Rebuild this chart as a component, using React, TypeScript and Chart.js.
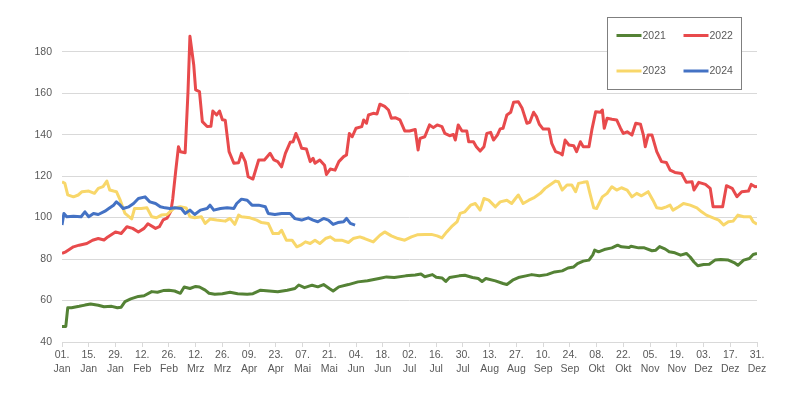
import React, { useEffect, useRef } from "react";
import { Chart, registerables } from "chart.js";

Chart.register(...registerables);

// x ticks: every 14 days from 01. Jan (day 0) to 31. Dez (day 364)
const TICK_DAYS = ["01.", "15.", "29.", "12.", "26.", "12.", "26.", "09.", "23.", "07.", "21.", "04.", "18.", "02.", "16.", "30.", "13.", "27.", "10.", "24.", "08.", "22.", "05.", "19.", "03.", "17.", "31."];
const TICK_MONTHS = ["Jan", "Jan", "Jan", "Feb", "Feb", "Mrz", "Mrz", "Apr", "Apr", "Mai", "Mai", "Jun", "Jun", "Jul", "Jul", "Jul", "Aug", "Aug", "Sep", "Sep", "Okt", "Okt", "Nov", "Nov", "Dez", "Dez", "Dez"];

const SERIES_LABELS = ["2021", "2022", "2023", "2024"];
const SERIES_COLORS = ["#548235", "#e84a4c", "#f8d76a", "#4472c4"];

const DAYS_2021 = [0, 2, 3, 5, 9, 12, 15, 19, 22, 26, 29, 31, 33, 36, 40, 43, 47, 50, 53, 56, 59, 62, 64, 67, 70, 72, 75, 77, 80, 84, 88, 92, 97, 100, 104, 110, 113, 118, 122, 124, 127, 131, 134, 137, 140, 142, 145, 150, 155, 160, 166, 170, 174, 180, 185, 188, 190, 194, 196, 199, 201, 203, 208, 211, 215, 218, 220, 222, 227, 231, 233, 236, 239, 243, 246, 250, 254, 258, 262, 265, 268, 270, 273, 276, 278, 279, 281, 284, 288, 291, 293, 297, 298, 302, 305, 309, 311, 313, 316, 318, 321, 324, 327, 329, 331, 333, 336, 339, 342, 345, 349, 352, 354, 357, 360, 362, 364];
const VALUES_2021 = [47.5, 47.5, 56.5, 56.5, 57.2, 57.8, 58.3, 57.7, 57, 57.2, 56.5, 56.8, 59.5, 60.8, 62, 62.3, 64.3, 64, 64.8, 65, 64.6, 63.5, 66.5, 65.8, 66.8, 66.5, 65, 63.5, 63, 63.3, 64, 63.3, 63, 63.3, 65, 64.5, 64.2, 65, 65.8, 67.5, 66.2, 67.4, 66.6, 67.7, 65.8, 64.6, 66.6, 67.7, 69, 69.5, 70.6, 71.4, 71.1, 71.9, 72.3, 72.8, 71.5, 72.5, 71.2, 70.9, 69.2, 71.1, 71.9, 72.2, 71.1, 70.6, 69.2, 70.6, 69.5, 68.2, 67.7, 69.8, 71.1, 71.9, 72.5, 72, 72.5, 73.8, 74.3, 75.7, 76.2, 77.8, 79, 79.5, 82, 84.3, 83.5, 84.6, 85.4, 86.7, 85.9, 85.6, 86.2, 85.4, 85.4, 84, 84.3, 86, 84.8, 83.5, 83, 81.9, 82.7, 81, 78.6, 76.8, 77.4, 77.5, 79.5, 79.8, 79.5, 78.3, 77, 79.5, 80.3, 82.2, 82.7];

const DAYS_2022 = [0, 2, 6, 9, 13, 16, 19, 22, 24, 28, 31, 34, 37, 40, 43, 45, 49, 51, 53, 55, 57, 58, 59.5, 61, 62, 64.5, 66, 67, 69, 70, 72, 73.5, 76, 78, 79, 81, 82.5, 84, 85.5, 87.5, 90, 92.5, 94, 96, 97.5, 100, 103, 106, 109, 111, 113, 115, 117, 119.5, 121, 122.5, 124, 125.5, 128, 130, 131.5, 132.5, 135, 137.5, 138.5, 140.5, 143, 145, 147.5, 149, 150.5, 152, 154, 157, 158, 159.5, 160.5, 163, 165, 166.5, 169, 171, 172.5, 174.5, 177, 179.5, 182, 185, 186.5, 187.5, 190, 192.5, 194.5, 196.5, 199, 200.5, 203, 205, 206, 207.5, 209.5, 212, 213, 215.5, 217, 219, 221, 222.5, 224.5, 226, 228, 229.5, 231, 233, 235, 236.5, 239, 241, 243.5, 245, 247, 248.5, 250, 252, 255, 256.5, 258.5, 261, 262, 263.5, 265.5, 268, 269.5, 271.5, 273, 276, 277.5, 279.5, 282, 283, 284, 285.5, 288, 290.5, 292.5, 294, 296, 298.5, 300.5, 303, 304.5, 305.5, 307, 309, 311.5, 314, 316.5, 318.5, 321, 324.5, 327, 330, 331, 333.5, 337, 339.5, 341, 346, 348, 351, 353.5, 356, 359.5, 361, 363, 364];
const VALUES_2022 = [82.7, 83.5, 85.9, 86.7, 87.5, 89.1, 89.9, 89.2, 90.7, 93.1, 92.3, 95.6, 94.8, 93.1, 94.8, 97, 94.8, 95.6, 98.9, 99.7, 103, 109, 122, 134.2, 131.8, 131.3, 160.8, 187.5, 173.6, 161.6, 160.8, 146.3, 143.9, 144, 151.4, 149.5, 151.4, 147.2, 147, 131.8, 126.2, 126.5, 131, 127, 119.7, 118.6, 127.8, 127.8, 131, 127.8, 127, 124.5, 131, 136.3, 136.6, 140.6, 137.4, 133.4, 133.1, 127, 128.6, 126.2, 127.8, 125.3, 120.8, 123.4, 122.9, 127, 129.4, 130.2, 140.6, 139, 143.1, 143.9, 147.1, 145.5, 149.5, 150.3, 150, 154.7, 153.6, 151.9, 147.9, 148.2, 147.1, 141.8, 141.8, 142.5, 132.6, 138.2, 139, 144.7, 143.4, 144.7, 143.9, 140.6, 139.5, 140.1, 137.4, 144.7, 141.8, 141.8, 136.6, 136.6, 134.2, 132.1, 134.2, 140.6, 141.1, 137.4, 139.8, 142.8, 143.1, 149.5, 150.8, 155.6, 155.9, 152.7, 145.5, 146, 150.8, 148.7, 145, 142.7, 142.7, 135.8, 131.8, 131, 130.2, 137.4, 135, 134.7, 131.8, 136.6, 134.2, 134.2, 142.3, 151, 150.8, 151.9, 143.1, 147.9, 147.4, 147.1, 143.1, 140.6, 141.4, 139.8, 145.5, 145, 139.8, 134.2, 139.8, 139.8, 131.8, 127, 126.6, 122.9, 121.8, 121.3, 117, 117.3, 113.3, 117, 116, 114.1, 105.2, 105.2, 115.4, 114.1, 110.1, 112.5, 112.8, 116, 114.9, 115];

const DAYS_2023 = [0, 1.5, 3, 6, 8.5, 10.5, 14, 17, 19, 21.5, 23.5, 25, 27, 28.5, 30.5, 33, 36.5, 38, 41.5, 44.5, 47, 49.5, 52, 55, 56.5, 59, 62, 65, 67, 69.5, 73, 75, 77.5, 81, 85.5, 88, 90.5, 92.5, 94, 98.5, 102, 104.5, 108, 110.5, 113.5, 115, 117.5, 120.5, 123, 125, 127.5, 130, 132.5, 135, 138, 140.5, 143, 146.5, 150, 152.5, 156, 158.5, 163, 166.5, 169, 172.5, 176, 179.5, 183, 186, 190, 193.5, 196.5, 199, 201.5, 204, 207, 208.5, 211, 214, 216.5, 219, 221, 223.5, 227, 229.5, 233, 235.5, 237.5, 239, 241.5, 244.5, 247, 250.5, 253, 255.5, 258.5, 260, 262, 264.5, 267, 269, 270.5, 273, 275, 276.5, 278.5, 280, 283, 285.5, 288, 290.5, 293, 296, 298.5, 301, 303.5, 307, 309.5, 311.5, 314, 316.5, 318.5, 320, 323, 325.5, 329, 332.5, 335, 337.5, 341, 344, 346.5, 349, 351.5, 354, 357, 360.5, 362, 364];
const VALUES_2023 = [117.3, 116.5, 111, 110, 110.9, 112.5, 112.8, 111.7, 114.1, 114.9, 117.6, 113.3, 112.8, 112.5, 108.4, 102, 99.4, 104.4, 104.4, 104.7, 100.4, 99.9, 101.2, 101.5, 102.8, 104.7, 105.2, 104.7, 100.4, 99.9, 100.4, 97.2, 99.3, 98.8, 98.3, 99.6, 96.7, 101.2, 100.4, 99.9, 98.8, 97.6, 97.2, 92.3, 92.3, 93.9, 89.1, 89.1, 85.9, 86.7, 88.3, 87.5, 89.1, 87.5, 89.9, 90.7, 89.1, 89.1, 88, 89.9, 90.7, 89.9, 88.3, 91.5, 93.1, 91.2, 89.9, 89.1, 90.7, 91.7, 91.9, 91.9, 91.2, 90.2, 93.1, 95.6, 98.1, 102, 102.8, 106, 106.8, 103.6, 109.2, 108.4, 105.2, 107.6, 108.4, 106.8, 109.2, 110.9, 106.8, 108.4, 109.5, 111.7, 114.1, 115.7, 117.6, 117.3, 113.3, 115.7, 115.7, 112.5, 116.5, 117, 117.3, 111.7, 104.7, 104.4, 110, 111.7, 114.9, 113.3, 114.4, 113.3, 110, 111.7, 110.5, 112.5, 108.4, 104.7, 104.4, 105.2, 106, 103.6, 105.2, 106.8, 106, 104.7, 102.8, 101.2, 99.9, 98.8, 96.4, 98, 98.3, 101.2, 100.4, 100.4, 98, 96.8];

const DAYS_2024 = [0, 1, 2.5, 6, 10, 12, 14, 16.5, 19, 22.5, 24.5, 27, 28.5, 30.5, 32, 35, 37.5, 40, 43.5, 46, 49, 51.5, 54, 56.5, 59, 62.5, 64.5, 67, 69.5, 72.5, 76, 77.5, 79.5, 83, 86.5, 90, 91.5, 94, 97, 99.5, 103, 106.5, 108, 111.5, 115, 119.5, 122, 125.5, 129, 131.5, 134, 137, 139.5, 142, 144.5, 147.5, 149, 151, 153.5];
const VALUES_2024 = [96.4, 102, 100.4, 100.7, 100.4, 102.8, 100.4, 102, 101.5, 103.1, 104.4, 106, 107.6, 106, 104.4, 105.2, 106.8, 109.2, 110, 107.6, 106.8, 105.2, 104.7, 104.4, 104.7, 104.4, 102, 103.6, 101.5, 103.6, 104.4, 106, 103.6, 104.4, 104.7, 104.4, 106.8, 108.9, 108.4, 106, 106, 105.2, 102, 101.5, 102, 102, 99.5, 98.8, 99.9, 98.8, 98, 99.6, 98.8, 96.7, 97.6, 98, 99.6, 97.2, 96.4];

const SERIES_DAYS = [DAYS_2021, DAYS_2022, DAYS_2023, DAYS_2024];
const SERIES_VALUES = [VALUES_2021, VALUES_2022, VALUES_2023, VALUES_2024];

const FONT = "'Liberation Sans', Arial, sans-serif";
const TEXT_COLOR = "#595959";
const GRID_COLOR = "#d9d9d9";

const legendBox = {
  id: "legendBox",
  afterDraw(chart: any) {
    const ctx = chart.ctx;
    const bx = 607.5, by = 17.5, bw = 134, bh = 72;
    ctx.save();
    ctx.fillStyle = "#ffffff";
    ctx.fillRect(bx, by, bw, bh);
    ctx.strokeStyle = "#7f7f7f";
    ctx.lineWidth = 1;
    ctx.strokeRect(bx, by, bw, bh);
    ctx.font = `10.5px ${FONT}`;
    ctx.textBaseline = "middle";
    ctx.textAlign = "left";
    chart.data.datasets.forEach((ds: any, i: number) => {
      const col = i % 2, row = Math.floor(i / 2);
      const x = bx + 9 + col * 67;
      const y = by + 18 + row * 35.5;
      ctx.strokeStyle = ds.borderColor;
      ctx.lineWidth = 3;
      ctx.beginPath();
      ctx.moveTo(x, y);
      ctx.lineTo(x + 25, y);
      ctx.stroke();
      ctx.fillStyle = TEXT_COLOR;
      ctx.fillText(ds.label, x + 26, y + 0.5);
    });
    ctx.restore();
  },
};

export default function App() {
  const ref = useRef<HTMLCanvasElement>(null);
  useEffect(() => {
    if (!ref.current) return;
    const datasets = SERIES_LABELS.map((label, i) => ({
      label,
      data: SERIES_DAYS[i].map((d, j) => ({ x: d, y: SERIES_VALUES[i][j] })),
      borderColor: SERIES_COLORS[i],
      backgroundColor: SERIES_COLORS[i],
      borderWidth: 3,
      pointRadius: 0,
      tension: 0,
      borderJoinStyle: "round" as const,
      order: SERIES_LABELS.length - i,
    }));
    const chart = new Chart(ref.current, {
      type: "line",
      data: { datasets },
      plugins: [legendBox],
      options: {
        animation: false,
        responsive: true,
        maintainAspectRatio: false,
        layout: { padding: { top: 31, right: 41, left: 0, bottom: 0 } },
        plugins: { legend: { display: false }, tooltip: { enabled: false } },
        scales: {
          x: {
            type: "linear",
            min: 0,
            max: 364,
            afterFit: (s: any) => { s.height = 57; },
            ticks: {
              stepSize: 14,
              autoSkip: false,
              maxRotation: 0,
              minRotation: 0,
              padding: 2,
              color: TEXT_COLOR,
              font: { family: FONT, size: 10.5, lineHeight: 1.25 },
              callback: (_v: any, idx: number) => [TICK_DAYS[idx], TICK_MONTHS[idx]],
            },
            grid: { drawOnChartArea: false, drawTicks: true, tickLength: 5, color: GRID_COLOR },
            border: { display: true, color: GRID_COLOR },
          },
          y: {
            min: 40,
            max: 190,
            afterFit: (s: any) => { s.width = 62; },
            afterBuildTicks: (s: any) => { s.ticks = s.ticks.filter((t: any) => t.value <= 180); },
            ticks: {
              stepSize: 20,
              padding: 10,
              color: TEXT_COLOR,
              font: { family: FONT, size: 10.5 },
            },
            grid: { drawTicks: false, color: GRID_COLOR },
            border: { display: false },
          },
        },
      },
    });
    return () => chart.destroy();
  }, []);
  return (
    <div style={{ position: "absolute", left: 0, top: 0, width: 798, height: 399, background: "#fff" }}>
      <canvas ref={ref} />
    </div>
  );
}
